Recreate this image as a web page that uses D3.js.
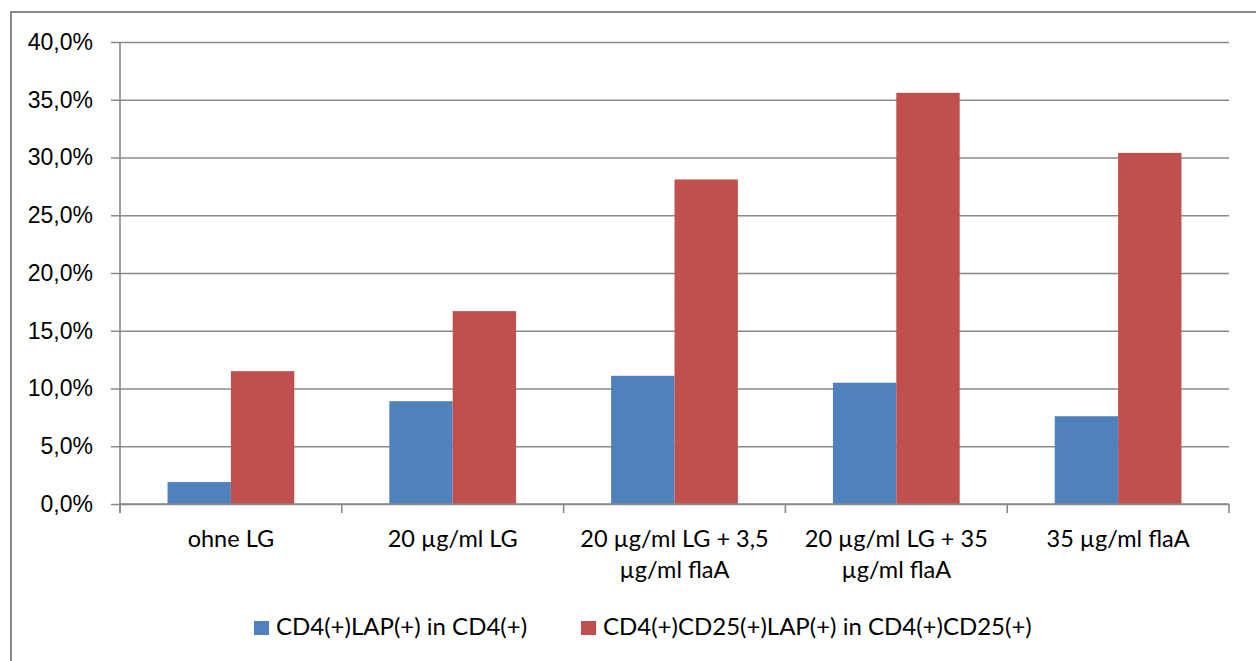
<!DOCTYPE html>
<html>
<head>
<meta charset="utf-8">
<script src="https://cdn.jsdelivr.net/npm/d3@7/dist/d3.min.js"></script>
<style>
  html, body { margin: 0; padding: 0; background: #fff; }
  svg { display: block; font-family: Lato, "Open Sans", sans-serif; }
</style>
</head>
<body>
<svg id="chart" width="1256" height="661"></svg>
<script>
// Treatment groups (each label split into display lines)
const categories = [
  ["ohne LG"],
  ["20 µg/ml LG"],
  ["20 µg/ml LG + 3,5", "µg/ml flaA"],
  ["20 µg/ml LG + 35", "µg/ml flaA"],
  ["35 µg/ml flaA"]
];
const seriesNames = ["CD4(+)LAP(+) in CD4(+)", "CD4(+)CD25(+)LAP(+) in CD4(+)CD25(+)"];
// Percent of positive cells
const lapInCd4 = [1.9, 8.9, 11.1, 10.5, 7.6];
const lapInCd4Cd25 = [11.5, 16.7, 28.1, 35.6, 30.4];
const yTicks = [0, 5, 10, 15, 20, 25, 30, 35, 40];

const colors = ["#4F81BD", "#C0504D"];
const gridColor = "#898989";

const svg = d3.select("#chart");
const plot = { left: 120, right: 1229, top: 42, bottom: 504 };

// Outer chart frame
svg.append("rect")
  .attr("x", 11).attr("y", 12)
  .attr("width", 1300).attr("height", 700)
  .attr("fill", "none").attr("stroke", gridColor).attr("stroke-width", 2);

const keys = categories.map((c, i) => i);
const x = d3.scaleBand().domain(keys).range([plot.left, plot.right]).paddingInner(0).paddingOuter(0);
const y = d3.scaleLinear().domain([0, 40]).range([plot.bottom, plot.top]);

// Horizontal gridlines with left tick stubs
const yAxis = d3.axisLeft(y)
  .tickValues(yTicks)
  .tickSize(-(plot.right - plot.left))
  .tickSizeOuter(0)
  .tickFormat(d => d.toFixed(1).replace(".", ",") + "%");
const gy = svg.append("g").attr("transform", `translate(${plot.left},0)`).call(yAxis);
gy.select(".domain").remove();
gy.selectAll(".tick line")
  .attr("x1", -9)
  .attr("stroke", gridColor).attr("stroke-width", 1.6);
gy.selectAll(".tick text")
  .attr("fill", "#000").attr("font-size", 23).attr("x", -27);

// Bars
const inner = d3.scaleBand().domain([0, 1]).range([0, x.bandwidth()]).paddingOuter(0.75).paddingInner(0);
const seriesData = [lapInCd4, lapInCd4Cd25];
seriesData.forEach((vals, s) => {
  svg.append("g").selectAll("rect")
    .data(vals)
    .join("rect")
    .attr("x", (d, i) => x(i) + inner(s))
    .attr("width", inner.bandwidth())
    .attr("y", d => y(d))
    .attr("height", d => y(0) - y(d))
    .attr("fill", colors[s]);
});

// Vertical axis line
svg.append("line")
  .attr("x1", plot.left).attr("x2", plot.left)
  .attr("y1", plot.top).attr("y2", plot.bottom + 9)
  .attr("stroke", gridColor).attr("stroke-width", 1.6);

// Category axis with tick marks at group boundaries
svg.append("line")
  .attr("x1", plot.left).attr("x2", plot.right)
  .attr("y1", plot.bottom).attr("y2", plot.bottom)
  .attr("stroke", gridColor).attr("stroke-width", 1.6);
const bounds = keys.map(k => x(k)).concat([plot.right]);
svg.append("g").selectAll("line")
  .data(bounds)
  .join("line")
  .attr("x1", d => d).attr("x2", d => d)
  .attr("y1", plot.bottom).attr("y2", plot.bottom + 9)
  .attr("stroke", gridColor).attr("stroke-width", 1.6);

// Category labels
const labels = svg.append("g").selectAll("text")
  .data(categories)
  .join("text")
  .attr("text-anchor", "middle")
  .attr("font-size", 23.5)
  .attr("fill", "#000")
  .attr("x", (d, i) => x(i) + x.bandwidth() / 2)
  .attr("y", 547);
labels.selectAll("tspan")
  .data(d => d)
  .join("tspan")
  .attr("x", function () { return this.parentNode.getAttribute("x"); })
  .attr("dy", (d, i) => i === 0 ? 0 : 31)
  .text(d => d);

// Legend
const legendX = [254, 581];
const legend = svg.append("g").selectAll("g")
  .data(seriesNames)
  .join("g")
  .attr("transform", (d, i) => `translate(${legendX[i]},621)`);
legend.append("rect")
  .attr("width", 15).attr("height", 14)
  .attr("fill", (d, i) => colors[i]);
legend.append("text")
  .attr("x", 22).attr("y", 14)
  .attr("font-size", 24)
  .attr("fill", "#000")
  .text(d => d);
</script>
</body>
</html>
